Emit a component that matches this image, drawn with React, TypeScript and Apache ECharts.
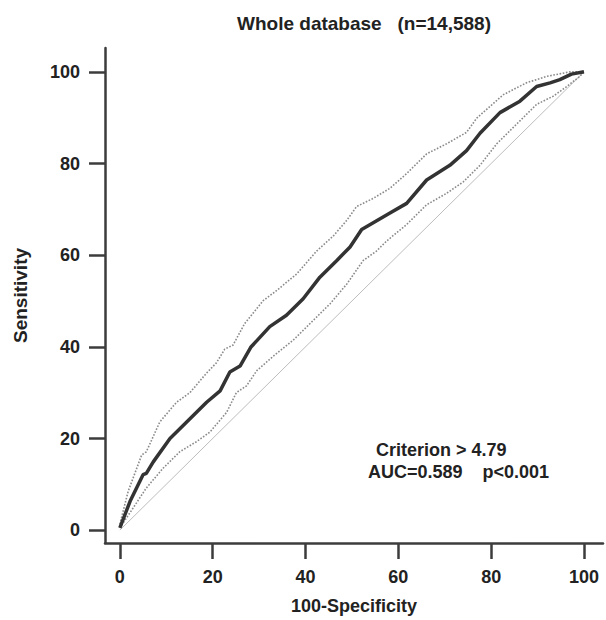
import React, { useEffect, useRef } from "react";
import * as echarts from "echarts";

const titleText = "Whole database   (n=14,588)";
const xAxisName = "100-Specificity";
const yAxisName = "Sensitivity";
const annotationLines = ["Criterion > 4.79", "AUC=0.589    p<0.001"];
const tickValues = [0, 20, 40, 60, 80, 100];

const rocCurve: [number, number][] = [
  [0, 0.5], [2.2, 6.3], [5.0, 12.1], [5.7, 12.4], [7.2, 14.9], [10.8, 20], [14.4, 23.6],
  [18.7, 27.9], [21.6, 30.4], [23.7, 34.5], [25.9, 35.8], [28.2, 39.9], [32.3, 44.4],
  [35.9, 46.9], [39.5, 50.5], [43.1, 55.2], [46.7, 58.8], [49.6, 61.8], [52.1, 65.6],
  [58.2, 69.2], [61.8, 71.3], [66.1, 76.4], [71.1, 79.6], [74.7, 82.8], [77.6, 86.6],
  [81.9, 91.1], [86.2, 93.6], [89.8, 96.8], [92.7, 97.6], [94.8, 98.3], [97.3, 99.5], [100, 100],
];

const upperCI: [number, number][] = [
  [0, 1.3], [1.8, 8.5], [4.7, 16.4], [5.7, 17.1], [8.6, 23.6], [12.2, 27.9], [15.1, 30],
  [18.7, 34.3], [20.8, 36.5], [22.6, 39.5], [24.4, 40.4], [26.9, 45.1], [30.9, 50.1],
  [33.8, 52.3], [38.1, 55.9], [42.4, 60.9], [46, 64.2], [48.9, 67.6], [51, 70.6],
  [54.6, 72.4], [58.2, 74.6], [61.8, 77.8], [66.1, 82.1], [70.4, 84.3], [74.7, 86.8],
  [76.9, 89.9], [82.6, 95], [87.6, 97.6], [91.9, 99], [97, 100], [100, 100],
];

const lowerCI: [number, number][] = [
  [0, 0.5], [2.9, 4.9], [5.7, 9.2], [9.3, 13.5], [12.9, 17.1], [16.5, 19.3], [19.4, 21.4],
  [23, 25.7], [25.1, 30], [27.3, 31.5], [29.5, 34.8], [33, 37.9], [37.4, 41.5], [41.7, 45.8],
  [45.3, 49.4], [48.9, 53.7], [52.4, 58.8], [55.3, 60.9], [57.5, 63.1], [61.8, 66.7],
  [66.1, 71], [70.4, 73.5], [74, 76], [77.6, 79.6], [81.2, 84.3], [86.2, 89.3], [89.8, 92.9],
  [93.4, 94.7], [96.3, 96.8], [99.1, 99], [100, 100],
];

const diagonal: [number, number][] = [
  [0, 0], [100, 100],
];

const FONT = "'Liberation Sans', Arial, Helvetica, sans-serif";
const AXIS_COLOR = "#3c3c3c";

export default function App() {
  const ref = useRef<HTMLDivElement>(null);
  useEffect(() => {
    document.body.style.margin = "0";
    if (!ref.current) return;
    const chart = echarts.init(ref.current, undefined, { renderer: "svg" });
    const axisCommon = {
      type: "value" as const,
      splitLine: { show: false },
      axisLine: { show: true, onZero: false, lineStyle: { color: AXIS_COLOR, width: 2.5 } },
      axisTick: {
        show: true,
        customValues: tickValues,
        lineStyle: { color: AXIS_COLOR, width: 2.5 },
      },
      axisLabel: {
        customValues: tickValues,
        color: "#222",
        fontFamily: FONT,
        fontWeight: "bold" as const,
        fontSize: 18,
      },
      nameLocation: "middle" as const,
    };
    chart.setOption({
      animation: false,
      backgroundColor: "#ffffff",
      grid: { left: 105, right: 3, top: 48, bottom: 71 },
      xAxis: {
        ...axisCommon,
        min: -3.2,
        max: 104.1,
        name: xAxisName,
        nameGap: 54,
        nameTextStyle: { color: "#222", fontFamily: FONT, fontWeight: "bold", fontSize: 18 },
        axisTick: { ...axisCommon.axisTick, length: 16 },
        axisLabel: { ...axisCommon.axisLabel, margin: 25 },
      },
      yAxis: {
        ...axisCommon,
        min: -2.8,
        max: 105.2,
        name: yAxisName,
        nameGap: 75,
        nameTextStyle: { color: "#222", fontFamily: FONT, fontWeight: "bold", fontSize: 19 },
        axisTick: { ...axisCommon.axisTick, length: 16 },
        axisLabel: { ...axisCommon.axisLabel, margin: 25 },
      },
      graphic: [
        {
          type: "text",
          x: 364,
          y: 23,
          style: {
            text: titleText,
            fontFamily: FONT,
            fontWeight: "bold",
            fontSize: 19,
            fill: "#222",
            textAlign: "center",
            textVerticalAlign: "middle",
          },
        },
        {
          type: "text",
          x: 376,
          y: 450,
          style: {
            text: annotationLines[0],
            fontFamily: FONT,
            fontWeight: "bold",
            fontSize: 18,
            fill: "#222",
            textAlign: "left",
            textVerticalAlign: "middle",
          },
        },
        {
          type: "text",
          x: 368,
          y: 472,
          style: {
            text: annotationLines[1],
            fontFamily: FONT,
            fontWeight: "bold",
            fontSize: 18,
            fill: "#222",
            textAlign: "left",
            textVerticalAlign: "middle",
          },
        },
      ],
      series: [
        {
          type: "line",
          data: diagonal,
          showSymbol: false,
          lineStyle: { color: "#bdbdbd", width: 1 },
          z: 1,
          silent: true,
        },
        {
          type: "line",
          data: lowerCI,
          showSymbol: false,
          lineStyle: { color: "#8a8a8a", width: 1.6, type: "dotted" },
          z: 2,
        },
        {
          type: "line",
          data: upperCI,
          showSymbol: false,
          lineStyle: { color: "#8a8a8a", width: 1.6, type: "dotted" },
          z: 2,
        },
        {
          type: "line",
          data: rocCurve,
          showSymbol: false,
          lineStyle: { color: "#333333", width: 3.5 },
          z: 3,
        },
      ],
    });
    return () => chart.dispose();
  }, []);
  return (
    <div
      ref={ref}
      style={{ position: "absolute", left: 0, top: 0, width: 606, height: 620 }}
    />
  );
}
